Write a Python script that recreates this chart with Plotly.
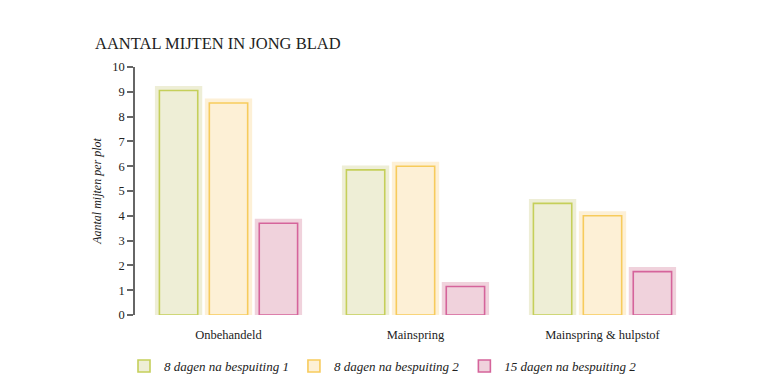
import plotly.graph_objects as go

categories = ["Onbehandeld", "Mainspring", "Mainspring & hulpstof"]
series_names = ["8 dagen na bespuiting 1", "8 dagen na bespuiting 2", "15 dagen na bespuiting 2"]
values_1 = [9.05, 5.85, 4.5]
values_2 = [8.55, 6.0, 4.0]
values_3 = [3.7, 1.15, 1.75]
fills = ["#eeeed6", "#fdf0d6", "#f0d2dc"]
lines = ["#c5cf5a", "#f7cb5c", "#d5649b"]

series = [values_1, values_2, values_3]
bar_w = 0.205
spacing = 0.267
offsets = [-spacing - bar_w / 2, -bar_w / 2, spacing - bar_w / 2]

fig = go.Figure()
serif = "Liberation Serif"
for i, vals in enumerate(series):
    # halo
    fig.add_trace(go.Bar(
        x=categories, y=vals, width=bar_w, offset=offsets[i],
        marker=dict(color=fills[i], line=dict(color=fills[i], width=9)),
        cliponaxis=False, showlegend=False, hoverinfo="skip",
    ))
for i, vals in enumerate(series):
    fig.add_trace(go.Bar(
        x=categories, y=vals, width=bar_w, offset=offsets[i],
        name="<i>" + series_names[i] + "</i>",
        marker=dict(color=fills[i], line=dict(color=lines[i], width=1.6)),
        cliponaxis=False,
    ))

fig.update_layout(
    barmode="overlay",
    width=768, height=379,
    margin=dict(l=135, r=72, t=67, b=64, autoexpand=False),
    paper_bgcolor="white", plot_bgcolor="white",
    font=dict(family=serif, size=12, color="#222"),
    title=dict(text="AANTAL MIJTEN IN JONG BLAD", x=95 / 768, xanchor="left",
               y=1 - 43 / 379, yanchor="middle",
               font=dict(family=serif, size=16.5, color="#222")),
    xaxis=dict(showline=False, showgrid=False, ticks="", zeroline=False,
               tickfont=dict(family=serif, size=12.5, color="#222"),
               ticklabelstandoff=10,
               range=[-0.5, 2.5]),
    yaxis=dict(range=[0, 10], dtick=1, showgrid=False, zeroline=False,
               showline=True, linecolor="#666", linewidth=1.5,
               ticks="outside", ticklen=6, tickcolor="#666", tickwidth=1.5,
               tickfont=dict(family=serif, size=12.5, color="#222"),
               title=dict(text="<i>Aantal mijten per plot</i>", standoff=8,
                          font=dict(family=serif, size=12, color="#222"))),
    legend=dict(orientation="h", xref="container", x=124 / 768, xanchor="left",
                yref="container", y=(379 - 366) / 379, yanchor="middle",
                font=dict(family=serif, size=13, color="#222"),
                itemwidth=30),
)

fig.write_html("out.html")
